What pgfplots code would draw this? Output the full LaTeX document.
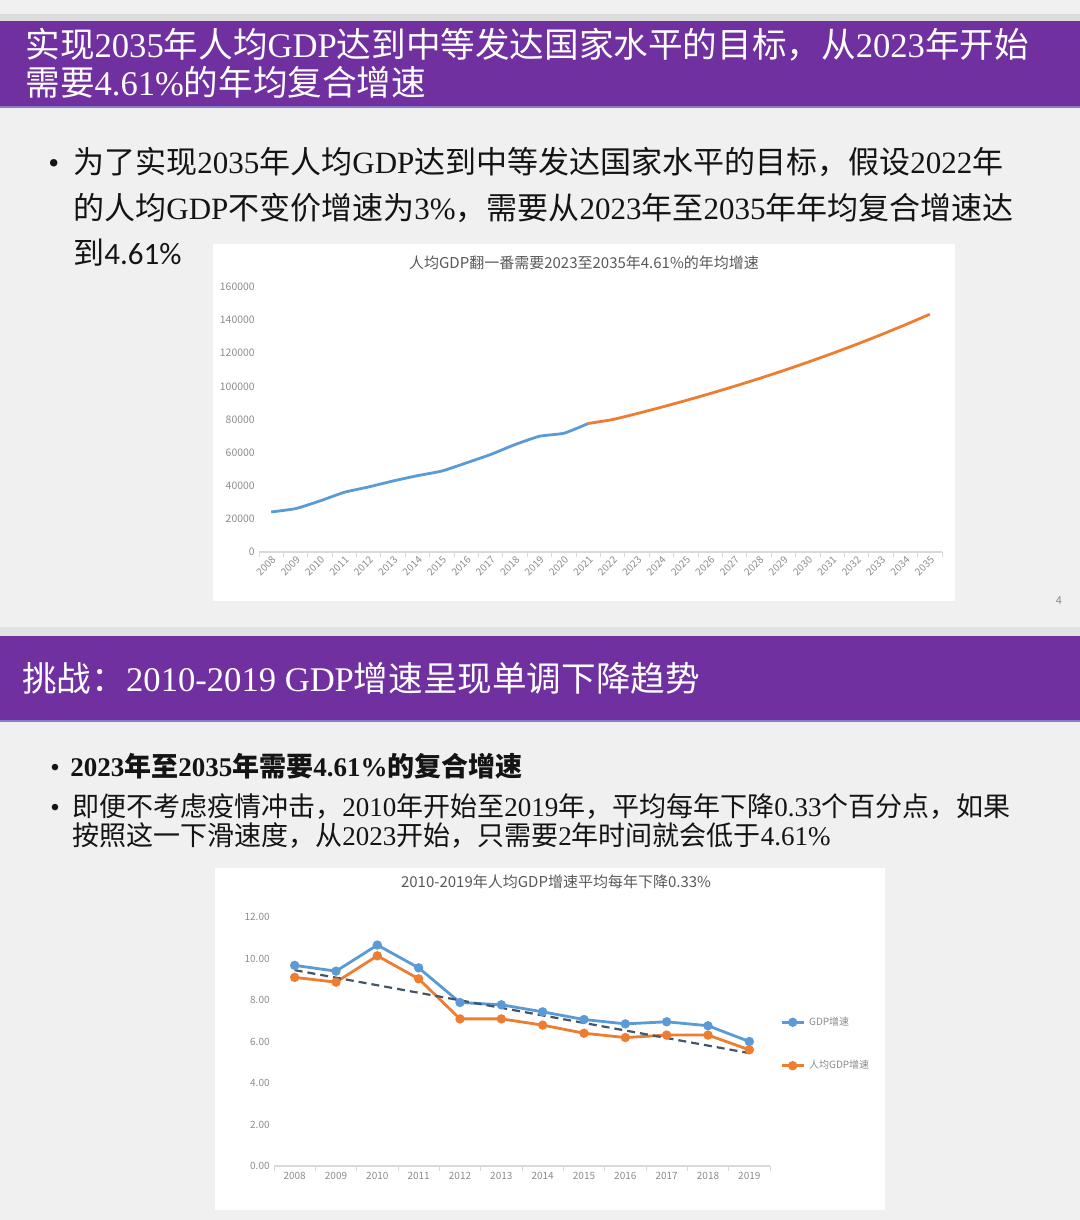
\documentclass[border=0pt]{standalone}
\usepackage{pgfplots}
\pgfplotsset{compat=1.18}
\usepackage{fontspec}
\setmainfont{Liberation Serif}
\newfontfamily\cjk{Noto Sans CJK SC}
\newfontfamily\carl{Carlito}
\definecolor{purp}{HTML}{7030A0}
\definecolor{bg}{HTML}{F0F0F0}
\definecolor{topline}{HTML}{DCDCDC}
\definecolor{lav}{HTML}{8C7CC8}
\definecolor{sepc}{HTML}{E2E2E2}
\definecolor{sblue}{HTML}{5B9BD5}
\definecolor{sorange}{HTML}{ED7D31}
\definecolor{titlegray}{HTML}{595959}
\definecolor{tickgray}{HTML}{8C8C8C}
\definecolor{axgray}{HTML}{D9D9D9}
\definecolor{trend}{HTML}{44546A}
\definecolor{bodytext}{HTML}{141414}
\newcommand\lt[1]{{\rmfamily #1}}
\begin{document}
\begin{tikzpicture}[x=0.5pt,y=0.5pt]
\path[use as bounding box] (0,-1220) rectangle (1080,0);
\fill[bg] (0,-1220) rectangle (1080,0);
\fill[topline] (0,-14) rectangle (1080,-21);
\fill[purp] (0,-21) rectangle (1080,-106);
\fill[lav] (0,-106) rectangle (1080,-108);
\fill[sepc] (0,-627) rectangle (1080,-636);
\fill[purp] (0,-636) rectangle (1080,-720);
\fill[lav] (0,-720) rectangle (1080,-722);
\fill[white] (213,-244) rectangle (955,-601);
\fill[white] (215,-868) rectangle (885,-1210);
\coordinate (A1) at (259,-552);
\coordinate (A2) at (274,-1166);
% headings
\node[anchor=base west, inner sep=0, text=white, font=\cjk\fontsize{17.3}{20}\selectfont] at (25,-57.5) {实现\lt{2035}年人均\lt{GDP}达到中等发达国家水平的目标，从\lt{2023}年开始};
\node[anchor=base west, inner sep=0, text=white, font=\cjk\fontsize{17.3}{20}\selectfont] at (25,-95.5) {需要\lt{4.61\%}的年均复合增速};
\node[anchor=base west, inner sep=0, text=white, font=\cjk\fontsize{17.3}{20}\selectfont] at (22,-691.5) {挑战：\lt{2010-2019 GDP}增速呈现单调下降趋势};
% slide 1 body
\node[anchor=base west, inner sep=0, text=bodytext, font=\cjk\fontsize{15.5}{18}\selectfont] at (48,-173.5) {\lt{•}};
\node[anchor=base west, inner sep=0, text=bodytext, font=\cjk\fontsize{15.5}{18}\selectfont] at (73,-173.5) {为了实现\lt{2035}年人均\lt{GDP}达到中等发达国家水平的目标，假设\lt{2022}年};
\node[anchor=base west, inner sep=0, text=bodytext, font=\cjk\fontsize{15.5}{18}\selectfont] at (73,-219.5) {的人均\lt{GDP}不变价增速为\lt{3\%}，需要从\lt{2023}年至\lt{2035}年年均复合增速达};
\node[anchor=base west, inner sep=0, text=bodytext, font=\cjk\fontsize{15.5}{18}\selectfont] at (73,-264.5) {到{\carl 4.61\%}};
\node[text=tickgray, font=\cjk\fontsize{5.5}{6}\selectfont] at (1059,-601) {4};
% slide 2 body
\node[anchor=base west, inner sep=0, text=bodytext, font=\cjk\fontsize{13.5}{16}\selectfont] at (50,-776) {\lt{•}};
\node[anchor=base west, inner sep=0, text=bodytext, font=\cjk\bfseries\fontsize{13.5}{16}\selectfont] at (70,-776) {\lt{2023}年至\lt{2035}年需要\lt{4.61\%}的复合增速};
\node[anchor=base west, inner sep=0, text=bodytext, font=\cjk\fontsize{13.5}{16}\selectfont] at (50,-816) {\lt{•}};
\node[anchor=base west, inner sep=0, text=bodytext, font=\cjk\fontsize{13.5}{16}\selectfont] at (72,-816) {即便不考虑疫情冲击，\lt{2010}年开始至\lt{2019}年，平均每年下降\lt{0.33}个百分点，如果};
\node[anchor=base west, inner sep=0, text=bodytext, font=\cjk\fontsize{13.5}{16}\selectfont] at (72,-845) {按照这一下滑速度，从\lt{2023}开始，只需要\lt{2}年时间就会低于\lt{4.61\%}};
% chart titles
\node[text=titlegray, font=\cjk\fontsize{7.5}{9}\selectfont] at (584,-263) {人均GDP翻一番需要2023至2035年4.61\%的年均增速};
\node[text=titlegray, font=\cjk\fontsize{7.5}{9}\selectfont] at (556,-882) {2010-2019年人均GDP增速平均每年下降0.33\%};
% chart 1
\begin{axis}[at={(A1)}, anchor=south west, scale only axis,
  width=341.5pt, height=132.5pt,
  xmin=-0.5, xmax=27.5, ymin=0, ymax=160000,
  axis line style={draw=none}, tick pos=left, clip=false,
  ytick={0,20000,40000,60000,80000,100000,120000,140000,160000},
  scaled y ticks=false,
  yticklabel style={/pgf/number format/fixed, /pgf/number format/precision=0, /pgf/number format/1000 sep={}},
  xtick={0,...,27},
  xticklabels={2008,2009,2010,2011,2012,2013,2014,2015,2016,2017,2018,2019,2020,2021,2022,2023,2024,2025,2026,2027,2028,2029,2030,2031,2032,2033,2034,2035},
  minor xtick={-0.5,0.5,...,27.5},
  major tick length=0pt, minor tick length=2.5pt, tick align=outside,
  minor x tick style={draw=axgray, line width=0.5pt},
  /pgf/number format/assume math mode=true,
  ticklabel style={font=\cjk\fontsize{5}{6}\selectfont, text=tickgray},
  y tick label style={font=\cjk\fontsize{5.2}{6}\selectfont, inner sep=2pt},
  x tick label style={rotate=45, anchor=north east, inner sep=1pt}]
\draw[axgray, line width=0.6pt] (axis cs:-0.5,0) -- (axis cs:27.5,0);
\addplot[sblue, line width=1.4pt, smooth, tension=0.3] coordinates {
(0,24180) (1,26200) (2,30830) (3,36070) (4,39300) (5,42900) (6,46100) (7,48900)
(8,53800) (9,58900) (10,64900) (11,69900) (12,71700) (13,77600)};
\addplot[sorange, line width=1.4pt, smooth, tension=0.3] coordinates {
(13,77600) (14,79990) (15,83590) (16,87440) (17,91470) (18,95690) (19,100100)
(20,104710) (21,109540) (22,114590) (23,119870) (24,125400) (25,131180)
(26,137230) (27,143550)};
\end{axis}
% chart 2
\begin{axis}[at={(A2)}, anchor=south west, scale only axis,
  width=248pt, height=124.5pt,
  xmin=-0.5, xmax=11.5, ymin=0, ymax=12,
  axis line style={draw=none}, tick pos=left, clip=false,
  ytick={0,2,4,6,8,10,12},
  xtick={0,...,11},
  xticklabels={2008,2009,2010,2011,2012,2013,2014,2015,2016,2017,2018,2019},
  minor xtick={-0.5,0.5,...,11.5},
  major tick length=0pt, minor tick length=2.5pt, tick align=outside,
  minor x tick style={draw=axgray, line width=0.5pt},
  /pgf/number format/assume math mode=true,
  yticklabel style={/pgf/number format/fixed, /pgf/number format/fixed zerofill, /pgf/number format/precision=2},
  ticklabel style={font=\cjk\fontsize{5}{6}\selectfont, text=tickgray},
  x tick label style={inner sep=2pt, yshift=-1pt},
  y tick label style={inner sep=2pt},
  legend style={at={(1.02,0.49)}, anchor=west, draw=none, fill=none,
    font=\cjk\fontsize{5}{6}\selectfont, text=tickgray, row sep=12pt,
    inner xsep=0pt, cells={anchor=west}},
  legend image code/.code={\draw[mark repeat=2,mark phase=2] plot coordinates {(0pt,0pt) (5.5pt,0pt) (11pt,0pt)};}]
\draw[axgray, line width=0.6pt] (axis cs:-0.5,0) -- (axis cs:11.5,0);
\addplot[sblue, line width=1.4pt, mark=*, mark size=1.6pt, mark options={fill=sblue, draw=sblue}] coordinates {
(0,9.67) (1,9.39) (2,10.65) (3,9.55) (4,7.88) (5,7.77) (6,7.43) (7,7.06) (8,6.85) (9,6.95) (10,6.76) (11,6.00)};
\addlegendentry{GDP增速}
\addplot[sorange, line width=1.4pt, mark=*, mark size=1.6pt, mark options={fill=sorange, draw=sorange}] coordinates {
(0,9.09) (1,8.86) (2,10.13) (3,9.02) (4,7.09) (5,7.09) (6,6.79) (7,6.40) (8,6.19) (9,6.31) (10,6.31) (11,5.60)};
\addlegendentry{人均GDP增速}
\addplot[trend, line width=1.1pt, dash pattern=on 4pt off 2.5pt, forget plot] coordinates {(0,9.44) (11,5.44)};
\end{axis}
\end{tikzpicture}
\end{document}
